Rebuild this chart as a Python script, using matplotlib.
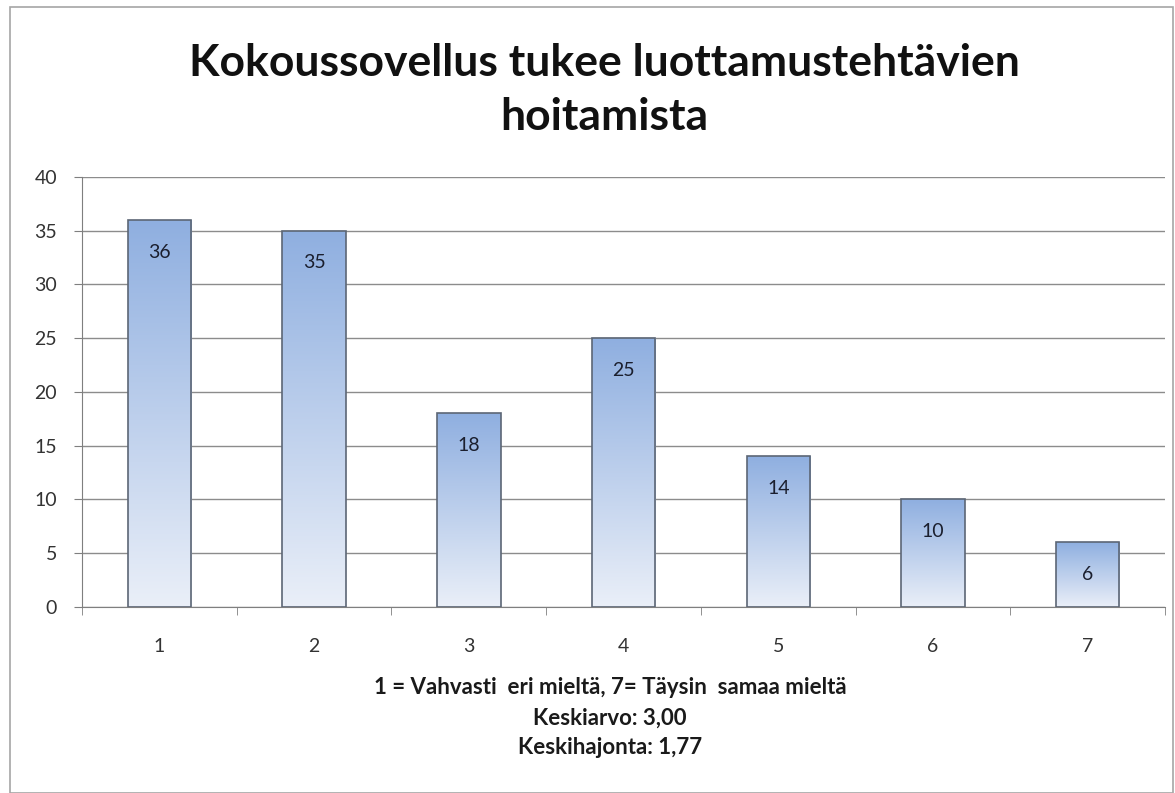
import matplotlib
matplotlib.use("Agg")
from matplotlib import pyplot as plt
from matplotlib.colors import LinearSegmentedColormap
from matplotlib.patches import Rectangle
import numpy as np

# data
categories = [1, 2, 3, 4, 5, 6, 7]
counts = [36, 35, 18, 25, 14, 10, 6]
title = "Kokoussovellus tukee luottamustehtävien\nhoitamista"
xlabel_lines = ["1 = Vahvasti  eri mieltä, 7= Täysin  samaa mieltä",
                "Keskiarvo: 3,00",
                "Keskihajonta: 1,77"]

plt.rcParams['font.family'] = ['Lato', 'DejaVu Sans']

fig = plt.figure(figsize=(11.75, 7.93), dpi=100)
ax = fig.add_axes([0.0698, 0.2346, 0.9217, 0.5422])

# outer frame of the chart
fig.patches.append(Rectangle((10 / 1175, 0.0), 1 - 10 / 1175 - 0.002, 1 - 7 / 793,
                             transform=fig.transFigure, fill=False,
                             edgecolor="#a6a6a6", linewidth=1.2))

grad = LinearSegmentedColormap.from_list("bar", ["#eaeff8", "#8fafe0"])
gradimg = np.linspace(0, 1, 256).reshape(-1, 1)
width = 0.41

bars = ax.bar(categories, counts, width=width, color="none",
              edgecolor="#5c6675", linewidth=1.2, zorder=3)
for b in bars:
    x0, h = b.get_x(), b.get_height()
    im = ax.imshow(gradimg, cmap=grad, origin="lower", aspect="auto",
                   extent=[x0, x0 + width, 0, h], zorder=2)
    im.set_clip_path(b)

for c, v in zip(categories, counts):
    ax.text(c, v - 3.0, str(v), ha="center", va="center", fontsize=14,
            color="#1b1f2e", zorder=4)

ax.set_xlim(0.5, 7.5)
ax.set_ylim(0, 40)
ax.set_yticks(range(0, 41, 5))
ax.set_xticks(categories)
ax.set_xticks(np.arange(0.5, 7.6, 1), minor=True)
ax.tick_params(axis="x", which="major", length=0, pad=22, labelsize=14,
               colors="#333333")
ax.tick_params(axis="x", which="minor", length=6, color="#7f7f7f")
ax.tick_params(axis="y", length=6, color="#7f7f7f", labelsize=14,
               labelcolor="#333333", pad=12)
ax.grid(axis="y", color="#8c8c8c", linewidth=1.0, zorder=0)
ax.set_axisbelow(True)
for s in ["top", "right"]:
    ax.spines[s].set_visible(False)
ax.spines["left"].set_color("#7f7f7f")
ax.spines["bottom"].set_color("#7f7f7f")

fig.text(0.514, 1 - 90 / 793, title, ha="center", va="center", fontsize=32,
         fontweight="bold", color="#111111", linespacing=1.4)
xl_y = [688, 718, 747]
for t, yy in zip(xlabel_lines, xl_y):
    fig.text(0.519, 1 - yy / 793, t, ha="center", va="center", fontsize=16,
             fontweight="bold", color="#1a1a1a")

fig.savefig("out.png", dpi=100)
